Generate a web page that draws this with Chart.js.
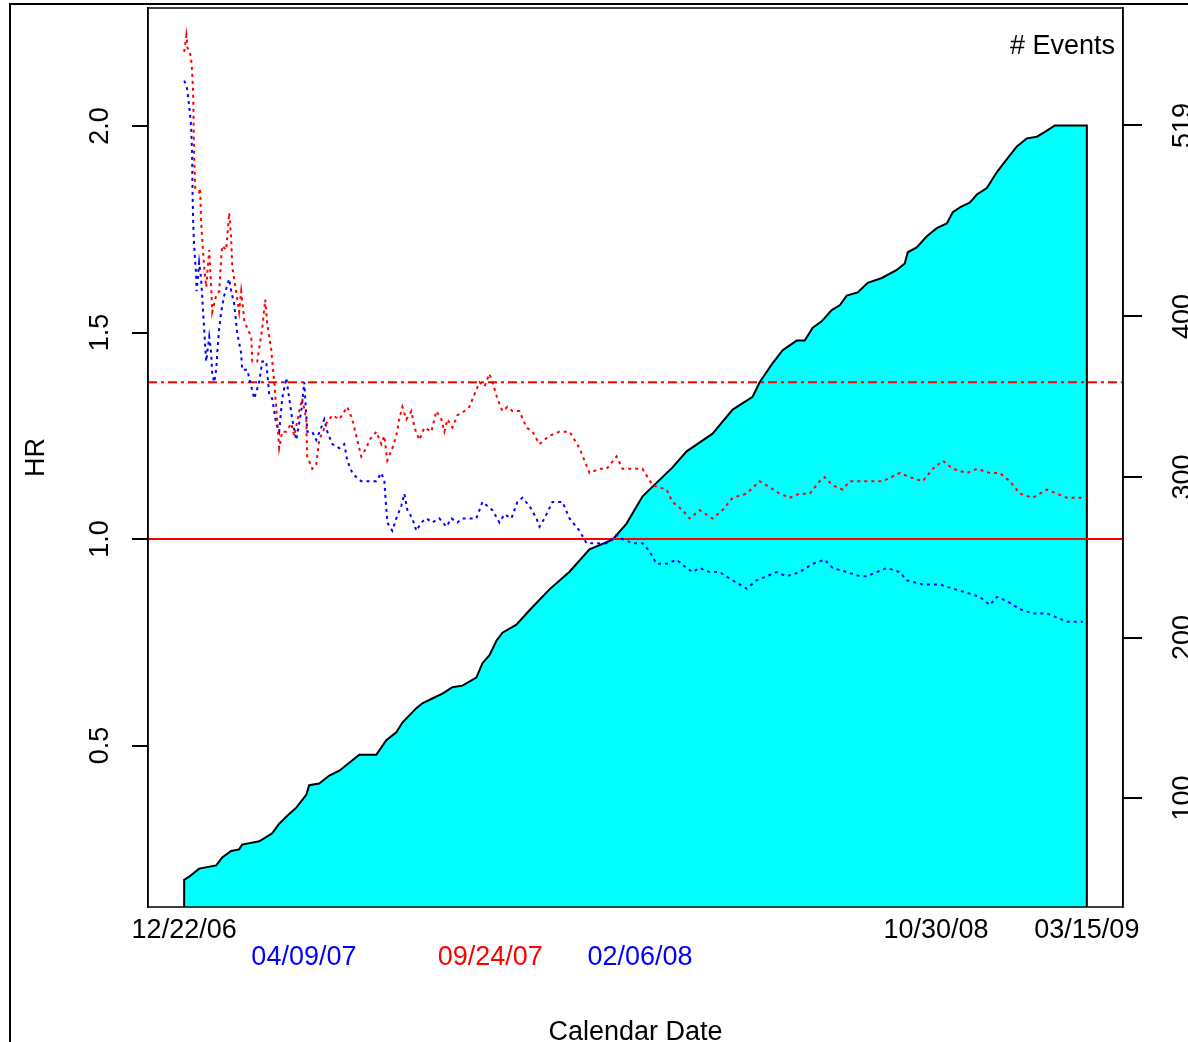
<!DOCTYPE html>
<html>
<head>
<meta charset="utf-8">
<script src="https://cdn.jsdelivr.net/npm/chart.js@4.4.1/dist/chart.umd.min.js"></script>
<style>
  html, body { margin: 0; padding: 0; background: #fff; }
  #wrap { width: 1188px; height: 1042px; }
</style>
</head>
<body>
<div id="wrap"><canvas id="c" width="1188" height="1042"></canvas></div>
<script>
// days since 12/22/06
const redDays = [0,2,3,6,7,8,8.5,9,10,13.5,14.4,15.3,16.2,18,19.9,22.6,24.4,25.3,28.9,31.6,33.4,34.3,37.9,40.6,42.4,43.3,46.9,49.6,51.4,54.2,56.9,60.5,61.4,65.9,70.4,73.1,74.9,78.5,81.2,83,85.7,88.4,92.1,96.6,99.3,103.8,106.5,110.1,111,115.5,119.1,121.8,128.2,133.6,139.9,147.1,151.6,156.1,159.7,164.3,167,173.3,177.8,180.5,183.2,187.7,191.3,194,196.7,200.4,204.9,207.6,212.1,216.6,222.9,227.4,231.9,234.7,237.4,241.9,246.4,252.7,257.2,261.7,266.2,270.8,275.3,278,282.5,287,291.5,296,302.3,308.7,314.1,320.4,329.4,338.4,347.5,356.5,365.5,374.5,380.9,389.9,395.3,404.3,413.3,422.4,435,440.4,449.4,455.8,464.8,476.5,485.5,494.6,507.2,518.9,525.3,537,546,555,564.1,573.1,577.6,584.8,593.8,600.2,611.9,629.9,645.3,654.3,666,675,684.1,693.1,705.8,714.8,726.5,735.5,744.6,753.6,765.3,778,787,796,814];
const redHR = [2.18,2.22,2.19,2.17,2.14,2.09,2.01,1.93,1.85,1.84,1.85,1.77,1.73,1.66,1.61,1.70,1.61,1.55,1.59,1.60,1.68,1.71,1.70,1.79,1.73,1.66,1.60,1.55,1.60,1.53,1.51,1.49,1.43,1.43,1.51,1.58,1.52,1.46,1.38,1.32,1.22,1.26,1.26,1.28,1.25,1.31,1.34,1.29,1.20,1.17,1.18,1.24,1.28,1.30,1.29,1.32,1.29,1.24,1.20,1.22,1.24,1.26,1.23,1.25,1.19,1.22,1.25,1.29,1.32,1.29,1.31,1.27,1.24,1.27,1.26,1.31,1.29,1.26,1.29,1.27,1.30,1.31,1.32,1.35,1.38,1.37,1.40,1.38,1.34,1.31,1.32,1.31,1.31,1.27,1.26,1.23,1.25,1.26,1.26,1.22,1.16,1.17,1.17,1.20,1.17,1.17,1.17,1.13,1.12,1.09,1.07,1.05,1.07,1.05,1.07,1.10,1.11,1.14,1.13,1.11,1.10,1.11,1.11,1.14,1.15,1.13,1.12,1.14,1.14,1.14,1.16,1.15,1.14,1.17,1.19,1.17,1.16,1.17,1.16,1.16,1.14,1.11,1.10,1.12,1.11,1.10,1.10];

const blueDays = [0,1.8,2.7,4.5,6.3,7.2,7.5,8.1,9,10.8,11.2,13.5,15.3,16.2,18,19.9,22.6,24.4,25.3,27.1,28.9,29.8,31.6,33.4,36.1,40.6,42.4,45.1,47.8,51.4,52.3,56.9,61.4,63.2,67.7,70.4,74,76.7,79.4,83,85.7,88.4,92.1,94.8,97.5,101.1,105.6,108.3,111,115.5,119.1,123.6,126.4,129.1,133.6,139.9,144.4,147.1,151.6,155.2,159.7,164.3,168.8,173.3,177.8,180.5,183.2,187.7,191.3,195.8,198.6,201.3,205.8,209.4,213.9,218.4,223.8,230.1,236.5,241,246.4,250.9,257.2,263.5,269,273.5,278,284.3,288.8,295.1,300.5,305,311.4,317.7,320.4,324.9,332.1,341.1,347.5,356.5,362.8,371.8,380.9,389.9,395.3,404.3,413.3,419.7,426,435,444,453.1,458.5,464.8,473.8,482.8,494.6,507.2,516.2,525.3,534.3,543.3,555,566.8,577.6,584.8,597.5,609.2,615.5,624.5,633.6,645.3,651.6,666,681.4,693.1,705.8,717.5,726.5,732.9,741.9,753.6,765.3,778,787,796,810.5];
const blueHR = [2.11,2.10,2.09,2.05,2.00,1.93,1.85,1.77,1.71,1.64,1.60,1.67,1.63,1.59,1.51,1.43,1.49,1.45,1.40,1.38,1.41,1.45,1.51,1.55,1.59,1.63,1.60,1.57,1.50,1.45,1.41,1.41,1.36,1.34,1.38,1.43,1.43,1.35,1.34,1.28,1.26,1.34,1.39,1.34,1.29,1.24,1.31,1.38,1.26,1.26,1.24,1.27,1.29,1.26,1.23,1.22,1.23,1.19,1.16,1.15,1.14,1.14,1.14,1.14,1.16,1.14,1.04,1.02,1.05,1.08,1.11,1.07,1.05,1.02,1.04,1.05,1.04,1.05,1.03,1.05,1.04,1.05,1.05,1.05,1.09,1.08,1.07,1.04,1.06,1.05,1.09,1.10,1.08,1.05,1.03,1.05,1.09,1.09,1.05,1.02,0.99,0.99,0.99,1.01,1.00,0.99,0.99,0.97,0.94,0.94,0.95,0.93,0.92,0.93,0.92,0.92,0.90,0.88,0.90,0.91,0.92,0.91,0.92,0.94,0.95,0.93,0.92,0.91,0.91,0.92,0.93,0.92,0.90,0.89,0.89,0.88,0.87,0.86,0.84,0.86,0.85,0.83,0.82,0.82,0.81,0.80,0.80];

const eventDays = [0,4.5,13.5,28.9,34.3,42.4,49.6,52.3,67.7,79.4,85.7,93,101.1,110.1,112.8,121.8,130.9,139.9,148.9,157.9,173.3,182.3,191.3,196.8,209.4,214.8,223.8,232.9,241.9,250.9,263.5,269,275.3,281.6,287,299.6,311.4,329.4,347.5,365.5,386.3,398.9,413.4,422.4,440.4,453.1,476.5,494.6,512.6,519,530.7,539.7,552.3,559.6,566.8,574.9,583.9,591.2,597.5,607.4,616.4,629.1,642.6,649.8,652.5,660.6,669.7,678.7,687.7,693.1,699.5,708.5,714.8,723.8,732.9,741.9,750.9,759.9,768.9,776.2,785.2,814];
const eventCounts = [49,51,56,58,63,67,68,71,73,78,84,89,94,102,108,109,114,117,122,127,127,136,141,147,156,159,162,165,169,170,175,184,189,198,203,208,217,230,241,255,261,271,288,294,306,316,327,342,350,359,371,379,385,385,393,397,404,407,413,415,421,424,429,433,440,443,450,455,458,465,468,471,476,480,490,498,506,511,512,515,519,519];

const HR_NULL = 1.0;
const HR_BOUND = 1.38;

const hrTicks = [0.5, 1.0, 1.5, 2.0];
const hrTickLabels = ['0.5', '1.0', '1.5', '2.0'];
const eventTicks = [100, 200, 300, 400, 519];
const eventTickLabels = ['100', '200', '300', '400', '519'];
const dateTickDays = [0, 108, 276, 411, 678, 814];
const dateTickLabels = ['12/22/06', '04/09/07', '09/24/07', '02/06/08', '10/30/08', '03/15/09'];
const dateTickRow = [0, 1, 1, 1, 0, 0];
const dateTickColors = ['#000000', '#0000FF', '#FF0000', '#0000FF', '#000000', '#000000'];

// axis limits (R style 4% extension)
const X_MIN = -32.6, X_MAX = 846.6;
const HR_MIN = 0.109, HR_MAX = 2.286;
const EV_MIN = 32.1, EV_MAX = 592.2;

const FONT = '"Liberation Sans", Arial, Helvetica, sans-serif';
Chart.defaults.font.family = FONT;
Chart.defaults.font.size = 27;
Chart.defaults.color = '#000';

const pairs = (xs, ys) => xs.map((x, i) => ({ x: x, y: ys[i] }));

const eventData = [{ x: eventDays[0], y: EV_MIN }]
  .concat(pairs(eventDays, eventCounts))
  .concat([{ x: eventDays[eventDays.length - 1], y: EV_MIN }]);

// frame, plot box, rotated tick labels
const decor = {
  id: 'decor',
  beforeDraw(chart) {
    const ctx = chart.ctx;
    ctx.save();
    ctx.fillStyle = '#fff';
    ctx.fillRect(0, 0, chart.width, chart.height);
    ctx.strokeStyle = '#000';
    ctx.lineWidth = 2;
    ctx.strokeRect(10, 4, chart.width + 20, chart.height + 20);
    ctx.restore();
  },
  afterDraw(chart) {
    const { ctx, chartArea: a, scales } = chart;
    ctx.save();
    ctx.strokeStyle = '#000';
    ctx.lineWidth = 1.5;
    ctx.strokeRect(a.left, a.top, a.right - a.left, a.bottom - a.top);

    ctx.font = '27px ' + FONT;
    ctx.fillStyle = '#000';
    ctx.textAlign = 'center';
    ctx.textBaseline = 'middle';
    scales.y.ticks.forEach((t, i) => {
      ctx.save();
      ctx.translate(a.left - 47, scales.y.getPixelForValue(t.value));
      ctx.rotate(-Math.PI / 2);
      ctx.fillText(hrTickLabels[i], 0, 0);
      ctx.restore();
    });
    scales.y2.ticks.forEach((t, i) => {
      ctx.save();
      ctx.translate(a.right + 61, scales.y2.getPixelForValue(t.value));
      ctx.rotate(-Math.PI / 2);
      ctx.fillText(eventTickLabels[i], 0, 0);
      ctx.restore();
    });
    ctx.textAlign = 'right';
    ctx.fillText('# Events', a.right - 8, a.top + 39);
    ctx.restore();
  }
};

new Chart(document.getElementById('c'), {
  type: 'line',
  data: {
    datasets: [
      {
        data: pairs(redDays, redHR),
        borderColor: '#FF0000', borderWidth: 2, borderDash: [3, 4],
        pointRadius: 0, yAxisID: 'y', order: 1
      },
      {
        data: pairs(blueDays, blueHR),
        borderColor: '#0000FF', borderWidth: 2, borderDash: [3, 4],
        pointRadius: 0, yAxisID: 'y', order: 1
      },
      {
        data: [{ x: X_MIN, y: HR_NULL }, { x: X_MAX, y: HR_NULL }],
        borderColor: '#FF0000', borderWidth: 2,
        pointRadius: 0, yAxisID: 'y', order: 2
      },
      {
        data: [{ x: X_MIN, y: HR_BOUND }, { x: X_MAX, y: HR_BOUND }],
        borderColor: '#FF0000', borderWidth: 2, borderDash: [9, 4, 3, 4],
        pointRadius: 0, yAxisID: 'y', order: 2
      },
      {
        data: eventData,
        borderColor: '#000', borderWidth: 2,
        backgroundColor: '#00FFFF', fill: 'start',
        pointRadius: 0, yAxisID: 'y2', order: 10
      }
    ]
  },
  options: {
    responsive: false,
    animation: false,
    devicePixelRatio: 1,
    layout: { padding: { top: 8, left: 0, right: 0, bottom: 0 } },
    plugins: { legend: { display: false }, tooltip: { enabled: false } },
    scales: {
      x: {
        type: 'linear', min: X_MIN, max: X_MAX,
        grid: { display: false },
        border: { display: false },
        afterBuildTicks: s => { s.ticks = dateTickDays.map(v => ({ value: v })); },
        afterFit: s => { s.height = 135; },
        ticks: {
          autoSkip: false, maxRotation: 0, minRotation: 0, padding: 2.5,
          font: { size: 27, lineHeight: 1 },
          color: c => dateTickColors[c.index],
          callback: (v, i) => dateTickRow[i] ? ['', dateTickLabels[i]] : dateTickLabels[i]
        },
        title: {
          display: true, text: 'Calendar Date',
          font: { size: 27, lineHeight: 1 }, padding: { top: 0, bottom: -4 }
        }
      },
      y: {
        type: 'linear', position: 'left', min: HR_MIN, max: HR_MAX,
        afterBuildTicks: s => { s.ticks = hrTicks.map(v => ({ value: v })); },
        afterFit: s => { s.width = 148; },
        grid: { drawOnChartArea: false, drawTicks: true, tickLength: 16, color: '#000', lineWidth: 2 },
        border: { display: true, color: '#000', width: 1.5 },
        ticks: { display: false },
        title: {
          display: true, text: 'HR',
          font: { size: 27, lineHeight: 1 }, padding: { top: 23.5, bottom: 0 }
        }
      },
      y2: {
        type: 'linear', position: 'right', min: EV_MIN, max: EV_MAX,
        afterBuildTicks: s => { s.ticks = eventTicks.map(v => ({ value: v })); },
        afterFit: s => { s.width = 65; },
        grid: { drawOnChartArea: false, drawTicks: true, tickLength: 19, color: '#000', lineWidth: 2 },
        border: { display: true, color: '#000', width: 1.5 },
        ticks: { display: false }
      }
    }
  },
  plugins: [decor]
});
</script>
</body>
</html>
